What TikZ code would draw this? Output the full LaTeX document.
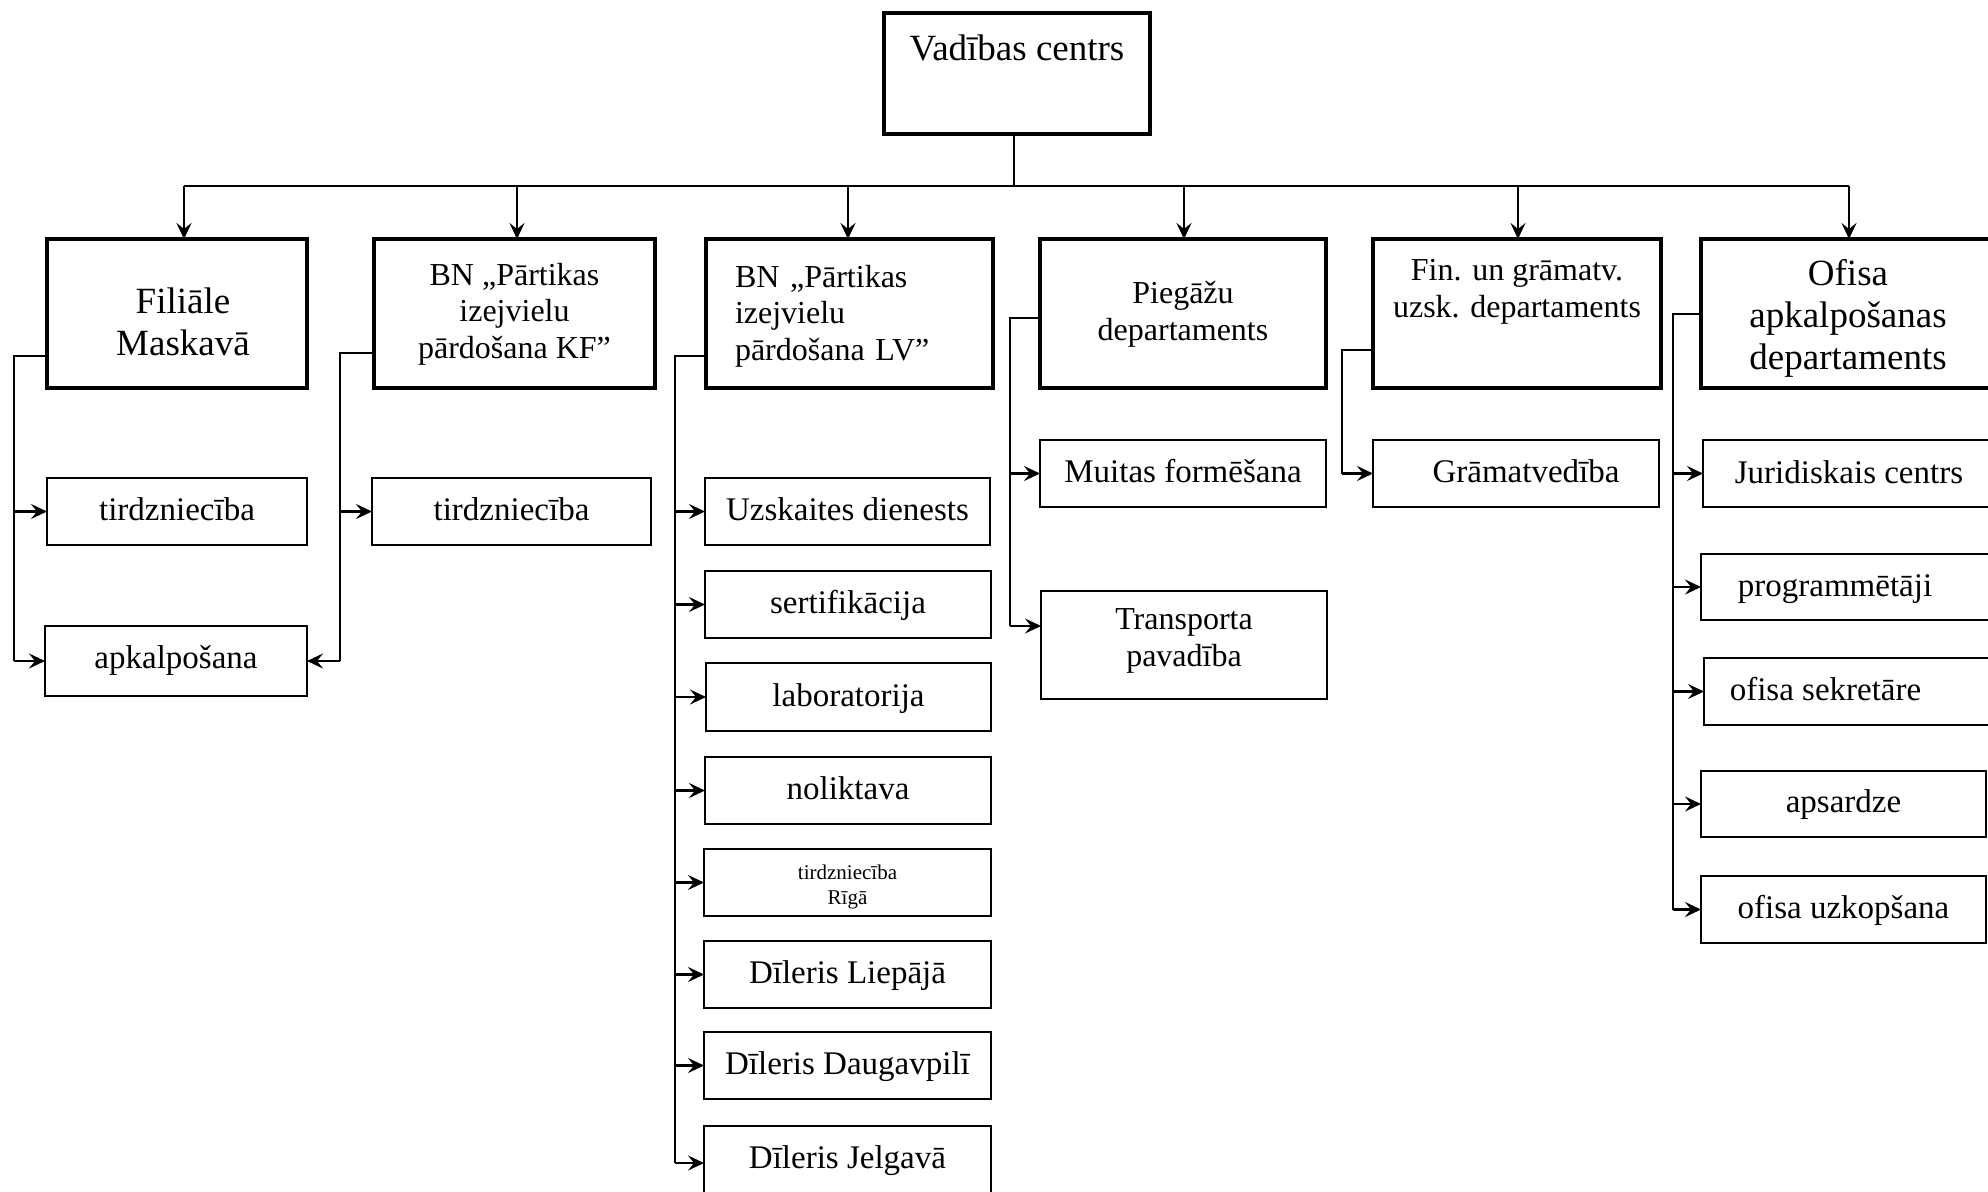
\documentclass[tikz,border=0pt]{standalone}
\usepackage{fontspec}
\setmainfont{Liberation Serif}
\usetikzlibrary{arrows.meta}

% A box given by its left, right, top and bottom edges and a text baseline
% (last line for centred text, first line for text with a fixed width)
\newcommand{\mkbox}[8][]{%
  \pgfmathsetmacro{\obW}{#4-#3}%
  \pgfmathsetmacro{\obH}{#7-#5}%
  \pgfmathsetmacro{\obD}{#6-#7}%
  \pgfmathsetmacro{\obX}{(#3+#4)/2}%
  \node[draw, anchor=base, inner sep=0pt, outer sep=0pt,
        minimum width=\obW bp, text height=\obH bp, text depth=\obD bp, #1]
        (#2) at (\obX,#7) {#8};}

\tikzset{
  hdr/.style={line width=4bp, align=center, font=\fontsize{32bp}{36.5bp}\selectfont},
  big/.style={font=\fontsize{37bp}{42bp}\selectfont},
  sub/.style={line width=2bp, align=center, font=\fontsize{33bp}{38bp}\selectfont},
  small/.style={font=\fontsize{21bp}{25bp}\selectfont},
  mid/.style={font=\fontsize{32bp}{37bp}\selectfont},
  conn/.style={line width=2bp},
  arr/.style={line width=2.5bp, -{Stealth[length=16bp, width=15bp, inset=6bp]}},
}

\begin{document}
\begin{tikzpicture}[x=1bp, y=-1bp]
\clip (0,0) rectangle (1988,1191);
\fill[white] (0,0) rectangle (1988,1191);

% top level
\mkbox[hdr, big]{top}{884}{1150}{13}{134}{60}{Vadības centrs}

% departments
\mkbox[hdr, big]{fil}{47}{307}{239}{388}{355}{\hspace*{12bp}Filiāle\\\hspace*{12bp}Maskavā}
\mkbox[hdr]{kf}{374}{655}{239}{388}{358}{BN „Pārtikas\\izejvielu\\pārdošana KF”}
\mkbox[hdr, align=left, text width=229bp, inner xsep=29bp]{lv}{706}{993}{239}{388}{287}{BN „Pārtikas\\izejvielu\\pārdošana LV”}
\mkbox[hdr]{pieg}{1040}{1326}{239}{388}{340}{Piegāžu\\departaments}
\mkbox[hdr]{fin}{1373}{1661}{239}{388}{317}{Fin. un grāmatv.\\uzsk. departaments}
\mkbox[hdr, big]{ofi}{1701}{1995}{239}{388}{369}{Ofisa\\apkalpošanas\\departaments}

% units
\mkbox[sub]{tr1}{47}{307}{478}{545}{520}{tirdzniecība}
\mkbox[sub]{apk}{45}{307}{626}{696}{668}{apkalpošana}
\mkbox[sub]{tr2}{372}{651}{478}{545}{520}{tirdzniecība}

\mkbox[sub]{uzsk}{705}{990}{478}{545}{520}{Uzskaites dienests}
\mkbox[sub]{sert}{705}{991}{571}{638}{613}{sertifikācija}
\mkbox[sub]{lab}{706}{991}{663}{731}{706}{laboratorija}
\mkbox[sub]{nol}{705}{991}{757}{824}{799}{noliktava}
\mkbox[sub, small]{riga}{704}{991}{849}{916}{904}{tirdzniecība\\Rīgā}
\mkbox[sub]{liep}{704}{991}{941}{1008}{983}{Dīleris Liepājā}
\mkbox[sub]{daug}{704}{991}{1032}{1099}{1074}{Dīleris Daugavpilī}
\mkbox[sub]{jelg}{704}{991}{1126}{1200}{1168}{Dīleris Jelgavā}

\mkbox[sub]{muitas}{1040}{1326}{440}{507}{482}{Muitas formēšana}
\mkbox[sub, mid]{transp}{1041}{1327}{591}{699}{666}{Transporta\\pavadība}

\mkbox[sub]{gram}{1373}{1659}{440}{507}{482}{\hspace*{20bp}Grāmatvedība}

\mkbox[sub]{jur}{1703}{1995}{440}{507}{483}{Juridiskais centrs}
\mkbox[sub]{prog}{1701}{1995}{554}{620}{596}{programmētāji\hspace*{26bp}}
\mkbox[sub]{sekr}{1704}{1995}{658}{725}{700}{ofisa sekretāre\hspace*{48bp}}
\mkbox[sub]{aps}{1701}{1986}{771}{837}{812}{apsardze}
\mkbox[sub]{uzk}{1701}{1986}{876}{943}{918}{ofisa uzkopšana}

% distribution bus
\coordinate (b1) at (184,186);
\coordinate (b2) at (517,186);
\coordinate (b3) at (848,186);
\coordinate (b4) at (1184,186);
\coordinate (b5) at (1518,186);
\coordinate (b6) at (1849,186);
\draw[conn] (b1) -- (b6);
\draw[conn] ([xshift=-3bp]top.south) -- ([xshift=-3bp]top.south |- b1);
\foreach \c/\n in {b1/fil, b2/kf, b3/lv, b4/pieg, b5/fin, b6/ofi}
  \draw[arr] (\c) -- (\c |- \n.north);

% Filiāle Maskavā
\coordinate (f0) at (14,356);
\draw[conn] (f0 -| fil.west) -- (f0) -- (f0 |- apk.west);
\draw[arr] (f0 |- tr1.west) -- (tr1.west);
\draw[arr] (f0 |- apk.west) -- (apk.west);

% BN KF
\coordinate (k0) at (340,353);
\draw[conn] (k0 -| kf.west) -- (k0) -- (k0 |- apk.east);
\draw[arr] (k0 |- tr2.west) -- (tr2.west);
\draw[arr] (k0 |- apk.east) -- (apk.east);

% BN LV
\coordinate (l0) at (675,356);
\draw[conn] (l0 -| lv.west) -- (l0) -- (l0 |- jelg.west);
\foreach \n in {uzsk, sert, lab, nol, riga, liep, daug, jelg}
  \draw[arr] (l0 |- \n.west) -- (\n.west);

% Piegāžu departaments
\coordinate (p0) at (1010,318);
\coordinate (tpa) at ([yshift=19bp]transp.west);
\draw[conn] (p0 -| pieg.west) -- (p0) -- (p0 |- tpa);
\draw[arr] (p0 |- muitas.west) -- (muitas.west);
\draw[arr] (p0 |- tpa) -- (tpa);

% Fin. un grāmatv. uzsk. departaments
\coordinate (g0) at (1342,350);
\draw[conn] (g0 -| fin.west) -- (g0) -- (g0 |- gram.west);
\draw[arr] (g0 |- gram.west) -- (gram.west);

% Ofisa apkalpošanas departaments
\coordinate (o0) at (1673,314);
\draw[conn] (o0 -| ofi.west) -- (o0) -- (o0 |- uzk.west);
\foreach \n in {jur, prog, sekr, aps, uzk}
  \draw[arr] (o0 |- \n.west) -- (\n.west);
\end{tikzpicture}
\end{document}
